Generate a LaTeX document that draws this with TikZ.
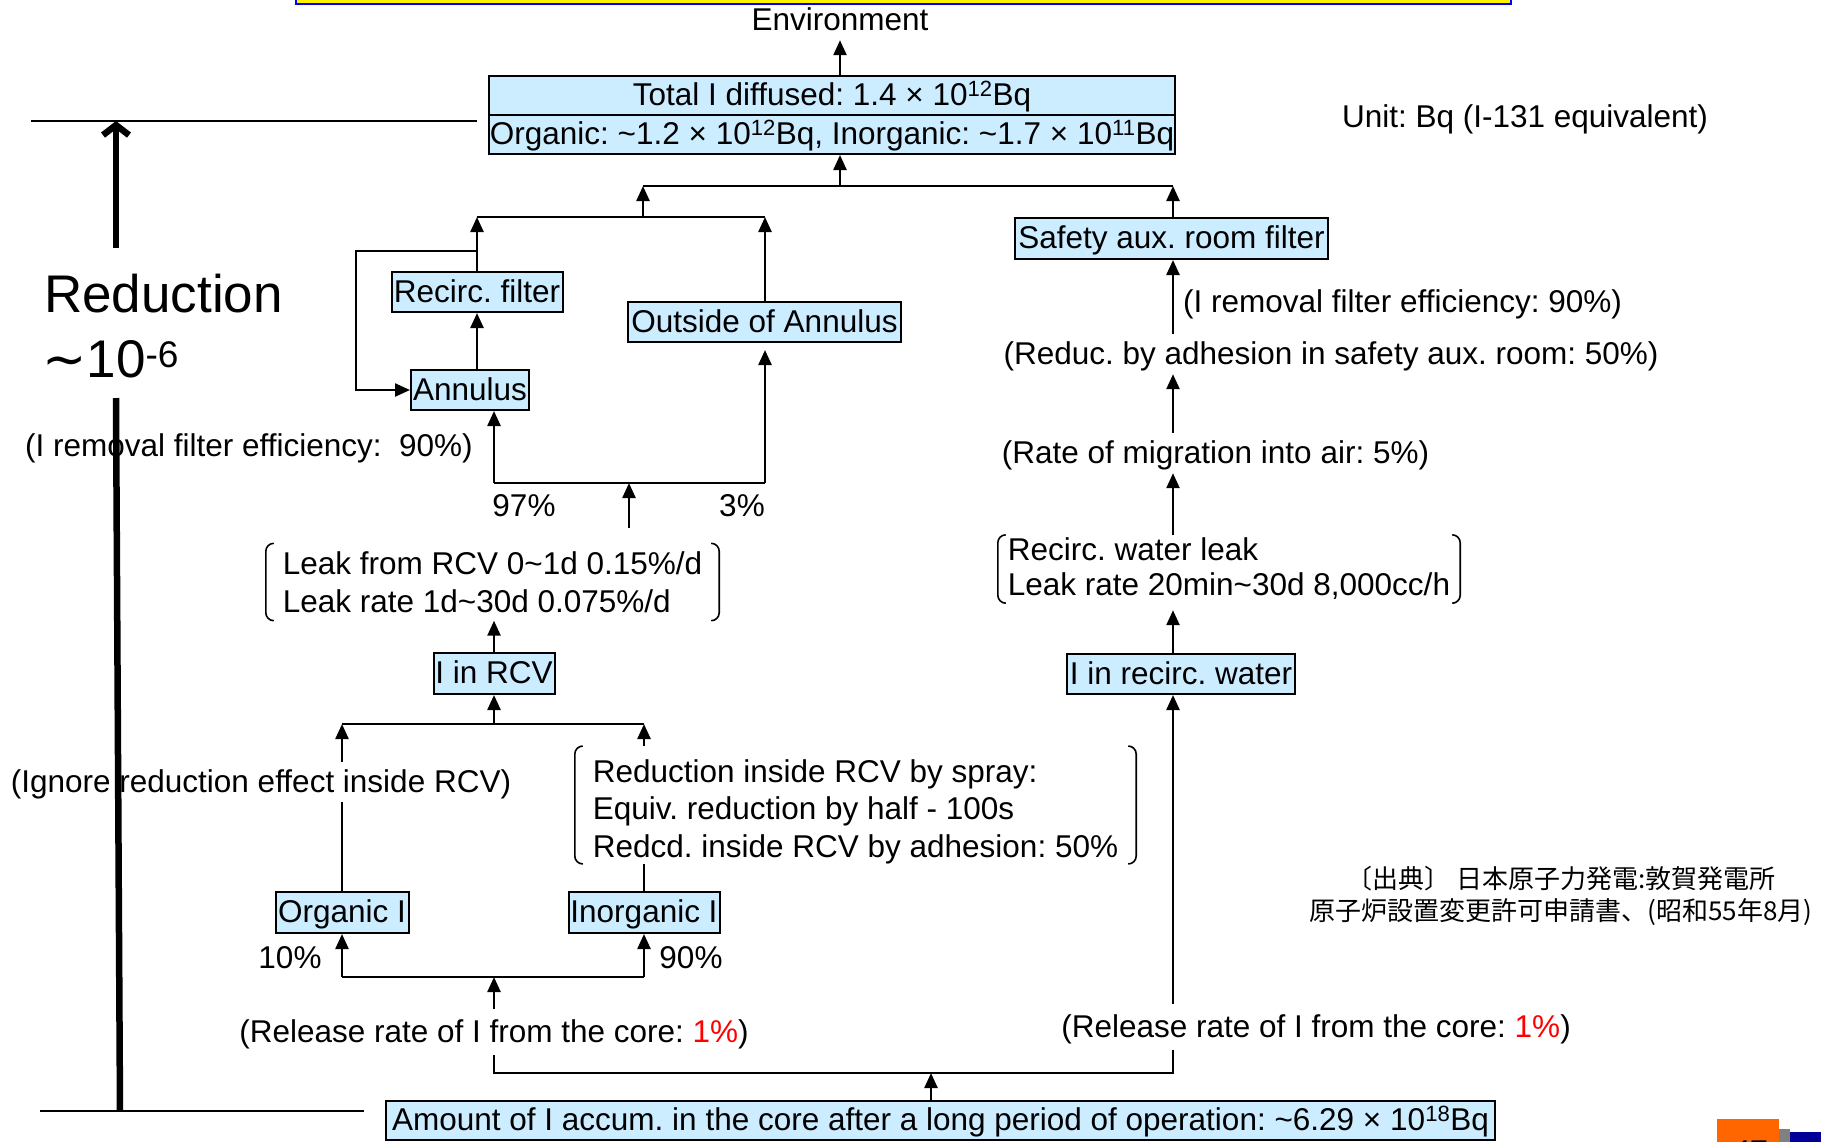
\documentclass[tikz,border=0pt]{standalone}
\usepackage{fontspec}
\setmainfont{Liberation Sans}
\newfontfamily\cjkfont{Noto Sans CJK JP}
\newfontfamily\symfont{DejaVu Sans}
\usepackage{xcolor}
\usepackage{tikz}
\usetikzlibrary{arrows.meta}
\definecolor{boxblue}{RGB}{204,236,255}
\definecolor{slidered}{RGB}{255,0,0}
\definecolor{slideorange}{RGB}{255,102,0}
\definecolor{slidenavy}{RGB}{0,0,153}
\frenchspacing

\begin{document}
\begin{tikzpicture}[x=1pt,y=-1pt,font=\fontsize{31.5}{38}\selectfont,
  box/.style={draw,line width=2pt,fill=boxblue,inner sep=0pt,text height=26pt,text depth=6pt},
  lbl/.style={inner xsep=0pt,inner ysep=4pt,text height=26pt,text depth=6pt},
  brknode/.style={align=left,inner xsep=0pt,inner ysep=0pt},
  brk/.style={line width=1.6pt,rounded corners=8pt},
  ln/.style={line width=2.4pt},
  arr/.style={line width=2.4pt,-{Triangle[length=15pt,width=13pt]}},
  bigarr/.style={line width=6.5pt,-{Straight Barb[length=10pt,width=26pt]}}]
\useasboundingbox (0,0) rectangle (1821,1141);
% ---------- slide remnants ----------
\filldraw[fill=yellow,draw=blue,line width=2pt] (296,-30) rectangle (1511,4);
\fill[slideorange] (1717,1119) rectangle (1779,1170);
\fill[gray] (1779,1129) rectangle (1790,1170);
\fill[slidenavy] (1790,1132) rectangle (1821,1170);
\node[font=\fontsize{31.5}{38}\selectfont\itshape] (pg) at (1748,1152) {47};
% ---------- top ----------
\node[lbl] (env) at (840,20) {Environment};
\node[box,minimum width=686pt,minimum height=39pt] (tot) at (832,95.5) {Total I diffused: 1.4 × 10\textsuperscript{12}Bq};
\node[box,minimum width=686pt,minimum height=39pt] (org) at (832,134.5) {Organic: \textasciitilde1.2 × 10\textsuperscript{12}Bq, Inorganic: \textasciitilde1.7 × 10\textsuperscript{11}Bq};
\node[lbl] (unit) at (1525,117) {Unit: Bq (I-131 equivalent)};
\draw[arr] (env.south |- tot.north) -- (env.south);
% ---------- reduction scale ----------
\coordinate (sct1) at (31,121);
\coordinate (sct2) at (477,121);
\coordinate (scb1) at (40,1111);
\coordinate (scb2) at (364,1111);
\draw[ln] (sct1) -- (sct2);
\draw[ln] (scb1) -- (scb2);
\node[anchor=west,inner sep=0pt,text height=38pt,text depth=0pt,font=\fontsize{53}{60}\selectfont] (redu) at (44,293) {Reduction};
\node[anchor=west,inner sep=0pt,text height=38pt,text depth=0pt,font=\fontsize{53}{60}\selectfont] (redv) at (42,358) {{\symfont ∼}10\textsuperscript{-6}};
\coordinate (ra1) at (120,1111);
\coordinate (ra2) at (116,398);
\coordinate (ra3) at (116,248);
\coordinate (ra4) at (116,121);
\draw[line width=6.5pt] (ra1) -- (ra2);
\draw[bigarr] (ra3) -- (ra4);
% ---------- annulus branch ----------
\node[box,minimum width=171pt,minimum height=40pt] (rfil) at (477,292) {Recirc. filter};
\node[box,minimum width=118pt,minimum height=40pt] (ann) at (470,390) {Annulus};
\node[box,minimum width=273pt,minimum height=40pt] (out) at (764.5,322) {Outside of Annulus};
\node[lbl] (rem1) at (249,446) {(I removal filter efficiency:\ \ 90\%)};
\node[lbl] (p97) at (524,506) {97\%};
\node[lbl] (p3) at (742,506) {3\%};
\coordinate (j1) at (840,186);
\coordinate (j1l) at (643,186);
\coordinate (j1r) at (1173,186);
\coordinate (j2) at (643,217);
\coordinate (j2l) at (477,217);
\coordinate (j2r) at (765,217);
\draw[arr] (j1) -- (j1 |- org.south);
\draw[ln] (j1l) -- (j1r);
\draw[arr] (j2) -- (j1l);
\draw[ln] (j2l) -- (j2r);
\draw[arr] (rfil.north) -- (j2l);
\draw[arr] (out.north -| j2r) -- (j2r);
\draw[arr] (ann.north -| rfil) -- (rfil.south);
% loop back through the filter
\coordinate (lp1) at (477,251);
\coordinate (lp2) at (356,251);
\draw[arr] (lp1) -- (lp2) |- (ann.west);
\coordinate (j3l) at (494,483);
\coordinate (j3r) at (765,483);
\coordinate (j3m) at (629,483);
\coordinate (m3) at (629,528);
\draw[arr] (j3l) -- (j3l |- ann.south);
\draw[ln] (j3l) -- (j3r);
\draw[arr,shorten >=7pt] (j3r) -- (j3r |- out.south);
\draw[arr] (m3) -- (j3m);
% ---------- RCV branch ----------
\node[brknode,minimum width=453pt,minimum height=77pt] (lk1) at (492.5,582) {Leak from RCV 0\textasciitilde1d 0.15\%/d\\Leak rate 1d\textasciitilde30d 0.075\%/d};
\node[box,minimum width=121pt,minimum height=41pt] (rcv) at (494,673.5) {I in RCV};
\draw[arr] (rcv.north) -- (rcv.north |- lk1.south);
\coordinate (j4) at (494,724);
\coordinate (j4l) at (342,724);
\coordinate (j4r) at (644,724);
\draw[arr] (j4) -- (rcv.south);
\draw[ln] (j4l) -- (j4r);
\node[lbl] (ign) at (261,782) {(Ignore reduction effect inside RCV)};
\node[brknode,minimum width=561pt,font=\fontsize{31.5}{37.5}\selectfont] (spr) at (855.5,805) {\rule{0pt}{36pt}Reduction inside RCV by spray:\\Equiv. reduction by half - 100s\\Redcd. inside RCV by adhesion: 50\%};
\node[box,minimum width=133pt,minimum height=41pt] (oi) at (342,912.5) {Organic I};
\node[box,minimum width=151pt,minimum height=41pt] (ii) at (644,912.5) {Inorganic I};
\draw[ln] (oi.north) -- (oi.north |- ign.south);
\draw[arr] (oi.north |- ign.north) -- (j4l);
\draw[ln] (ii.north) -- (ii.north |- spr.south);
\draw[arr] (ii.north |- spr.north) -- (j4r);
\coordinate (j5) at (494,977);
\coordinate (j5l) at (342,977);
\coordinate (j5r) at (644,977);
\draw[ln] (j5l) -- (j5r);
\draw[arr] (j5l) -- (oi.south);
\draw[arr] (j5r) -- (ii.south);
\node[lbl] (p10) at (290,958) {10\%};
\node[lbl] (p90) at (691,958) {90\%};
% ---------- recirculation water branch ----------
\node[box,minimum width=313pt,minimum height=41pt] (saf) at (1171.5,238.5) {Safety aux. room filter};
\node[lbl,anchor=west] (rem2) at (1183,302) {(I removal filter efficiency: 90\%)};
\node[lbl] (adh) at (1331,354) {(Reduc. by adhesion in safety aux. room: 50\%)};
\node[lbl] (mig) at (1215.5,453) {(Rate of migration into air: 5\%)};
\node[brknode,minimum width=462pt,minimum height=68pt,font=\fontsize{31.5}{35}\selectfont] (lk2) at (1229,569) {Recirc. water leak\\Leak rate 20min\textasciitilde30d 8,000cc/h};
\node[box,minimum width=228pt,minimum height=40pt] (rw) at (1181,674) {I in recirc. water};
\coordinate (rx) at (1173,0);
\draw[arr] (saf.north -| rx) -- (j1r);
\draw[arr] (adh.north -| rx) -- (saf.south -| rx);
\draw[arr] (mig.north -| rx) -- (adh.south -| rx);
\draw[arr] (lk2.north -| rx) -- (mig.south -| rx);
\draw[arr,shorten >=7pt] (rw.north -| rx) -- (lk2.south -| rx);
% brackets round the notes
\foreach \n in {lk1,spr,lk2}{
  \draw[brk] ([xshift=8pt]\n.north west) -- (\n.north west) -- (\n.south west) -- ([xshift=8pt]\n.south west);
  \draw[brk] ([xshift=-8pt]\n.north east) -- (\n.north east) -- (\n.south east) -- ([xshift=-8pt]\n.south east);
}
% ---------- core ----------
\node[lbl,inner ysep=7pt] (rel1) at (494,1032) {(Release rate of I from the core: \textcolor{slidered}{1\%})};
\node[lbl,inner ysep=7pt] (rel2) at (1316,1027) {(Release rate of I from the core: \textcolor{slidered}{1\%})};
\node[box,minimum width=1109pt,minimum height=39pt] (core) at (940.5,1120.5) {Amount of I accum. in the core after a long period of operation: \textasciitilde6.29 × 10\textsuperscript{18}Bq};
\draw[arr] (rel1.north) -- (j5);
\draw[arr] (rel2.north -| rx) -- (rw.south -| rx);
\coordinate (j6) at (1173,1073);
\coordinate (j6m) at (931,1073);
\draw[ln] (rel1.south) |- (j6) -- (j6 |- rel2.south);
\draw[arr] (core.north -| j6m) -- (j6m);
% ---------- source ----------
\node[align=center,font=\cjkfont\fontsize{26}{32}\selectfont] (src) at (1561,896) {〔出典〕 日本原子力発電:敦賀発電所\\原子炉設置変更許可申請書、(昭和55年8月)};
\end{tikzpicture}
\end{document}
